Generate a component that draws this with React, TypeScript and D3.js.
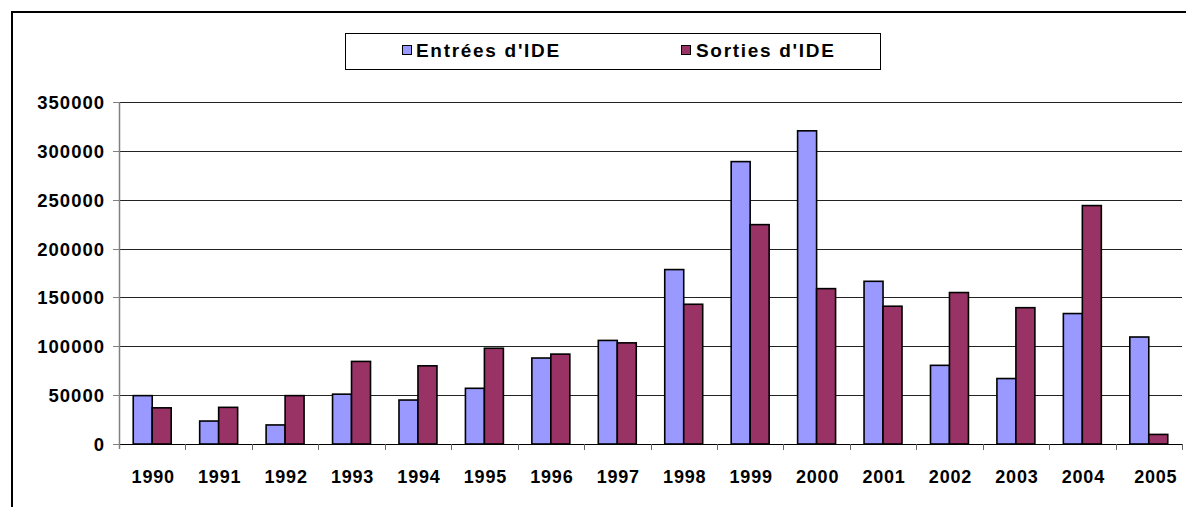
import React from "react";
import * as d3 from "d3";

const years = ["1990","1991","1992","1993","1994","1995","1996","1997","1998","1999","2000","2001","2002","2003","2004","2005"];
const entrees = [49500, 23500, 19500, 51000, 45000, 57000, 88000, 106000, 178500, 289000, 320500, 166500, 80500, 67000, 133500, 109500];
const sorties = [37000, 37500, 49500, 84500, 80000, 98000, 92000, 103500, 143000, 224500, 159000, 141000, 155000, 139500, 244000, 9800];
const seriesNames = ["Entrées d'IDE", "Sorties d'IDE"];
const seriesColors = ["#9999FF", "#993366"];
const yTicks = [0, 50000, 100000, 150000, 200000, 250000, 300000, 350000];

const W = 1186, H = 507;
const FONT = "'Liberation Sans', Arial, sans-serif";

export default function App() {
  const plotL = 119, plotR = 1182, plotT = 102, plotB = 444;
  const y = d3.scaleLinear().domain([0, 350000]).range([plotB, plotT]);
  const x0 = d3.scaleBand<string>().domain(years).range([plotL, plotR]).paddingInner(0).paddingOuter(0);
  const bw = x0.bandwidth();
  const x1 = d3.scaleBand<number>().domain([0, 1]).range([0, bw]).paddingInner(0).paddingOuter(0.75);
  const data = [entrees, sorties];
  const ls = 1.0;
  return (
    <svg width={W} height={H} style={{ position: "absolute", left: 0, top: 0, background: "#fff" }}
      fontFamily={FONT}>
      <rect x={0} y={0} width={W} height={H} fill="#fff" />
      {/* frame */}
      <line x1={11} y1={12} x2={W} y2={12} stroke="#000" strokeWidth={2} />
      <line x1={12} y1={11} x2={12} y2={H} stroke="#000" strokeWidth={2} />
      {/* gridlines */}
      {yTicks.map((t) => (
        <line key={t} x1={plotL} x2={plotR} y1={Math.round(y(t)) + 0.5} y2={Math.round(y(t)) + 0.5}
          stroke={t === 0 ? "#000" : "#222"} strokeWidth={1} />
      ))}
      {/* y axis */}
      <line x1={plotL + 0.5} x2={plotL + 0.5} y1={plotT} y2={plotB + 5} stroke="#808080" strokeWidth={1.5} />
      {yTicks.map((t) => (
        <g key={"yt" + t}>
          <line x1={plotL - 6} x2={plotL} y1={Math.round(y(t)) + 0.5} y2={Math.round(y(t)) + 0.5} stroke="#808080" strokeWidth={1} />
          <text x={104 + ls} y={y(t) + 7} textAnchor="end" fontSize={18.5} fontWeight="bold" letterSpacing={ls} fill="#000">
            {String(t)}
          </text>
        </g>
      ))}
      {/* x ticks */}
      {years.map((yr) => (
        <line key={"xt" + yr} x1={Math.round(x0(yr)! + bw) + 0.5} x2={Math.round(x0(yr)! + bw) + 0.5}
          y1={plotB} y2={plotB + 6} stroke="#666" strokeWidth={1} />
      ))}
      {/* bars */}
      {years.map((yr, i) => (
        <g key={"b" + yr}>
          {data.map((s, k) => (
            <rect key={k} x={x0(yr)! + x1(k)!} y={y(s[i])} width={x1.bandwidth()} height={plotB - y(s[i])}
              fill={seriesColors[k]} stroke="#000" strokeWidth={1.6} />
          ))}
        </g>
      ))}
      {/* x labels */}
      {years.map((yr) => (
        <text key={"xl" + yr} x={x0(yr)! + bw / 2 + 1 + (yr === "2005" ? 6 : 0)} y={482.5} textAnchor="middle" fontSize={18}
          fontWeight="bold" letterSpacing={0.8} fill="#000">
          {yr}
        </text>
      ))}
      {/* legend */}
      <rect x={345.5} y={33.5} width={535} height={36} fill="#fff" stroke="#000" strokeWidth={1} />
      {[{ mx: 402, tx: 416 }, { mx: 681, tx: 696 }].map((p, k) => (
        <g key={"lg" + k}>
          <rect x={p.mx + 0.5} y={45.5} width={9} height={9} fill={seriesColors[k]} stroke="#000" strokeWidth={1} />
          <text x={p.tx} y={57} fontSize={19} fontWeight="bold" letterSpacing={1.7} fill="#000">
            {seriesNames[k]}
          </text>
        </g>
      ))}
    </svg>
  );
}
